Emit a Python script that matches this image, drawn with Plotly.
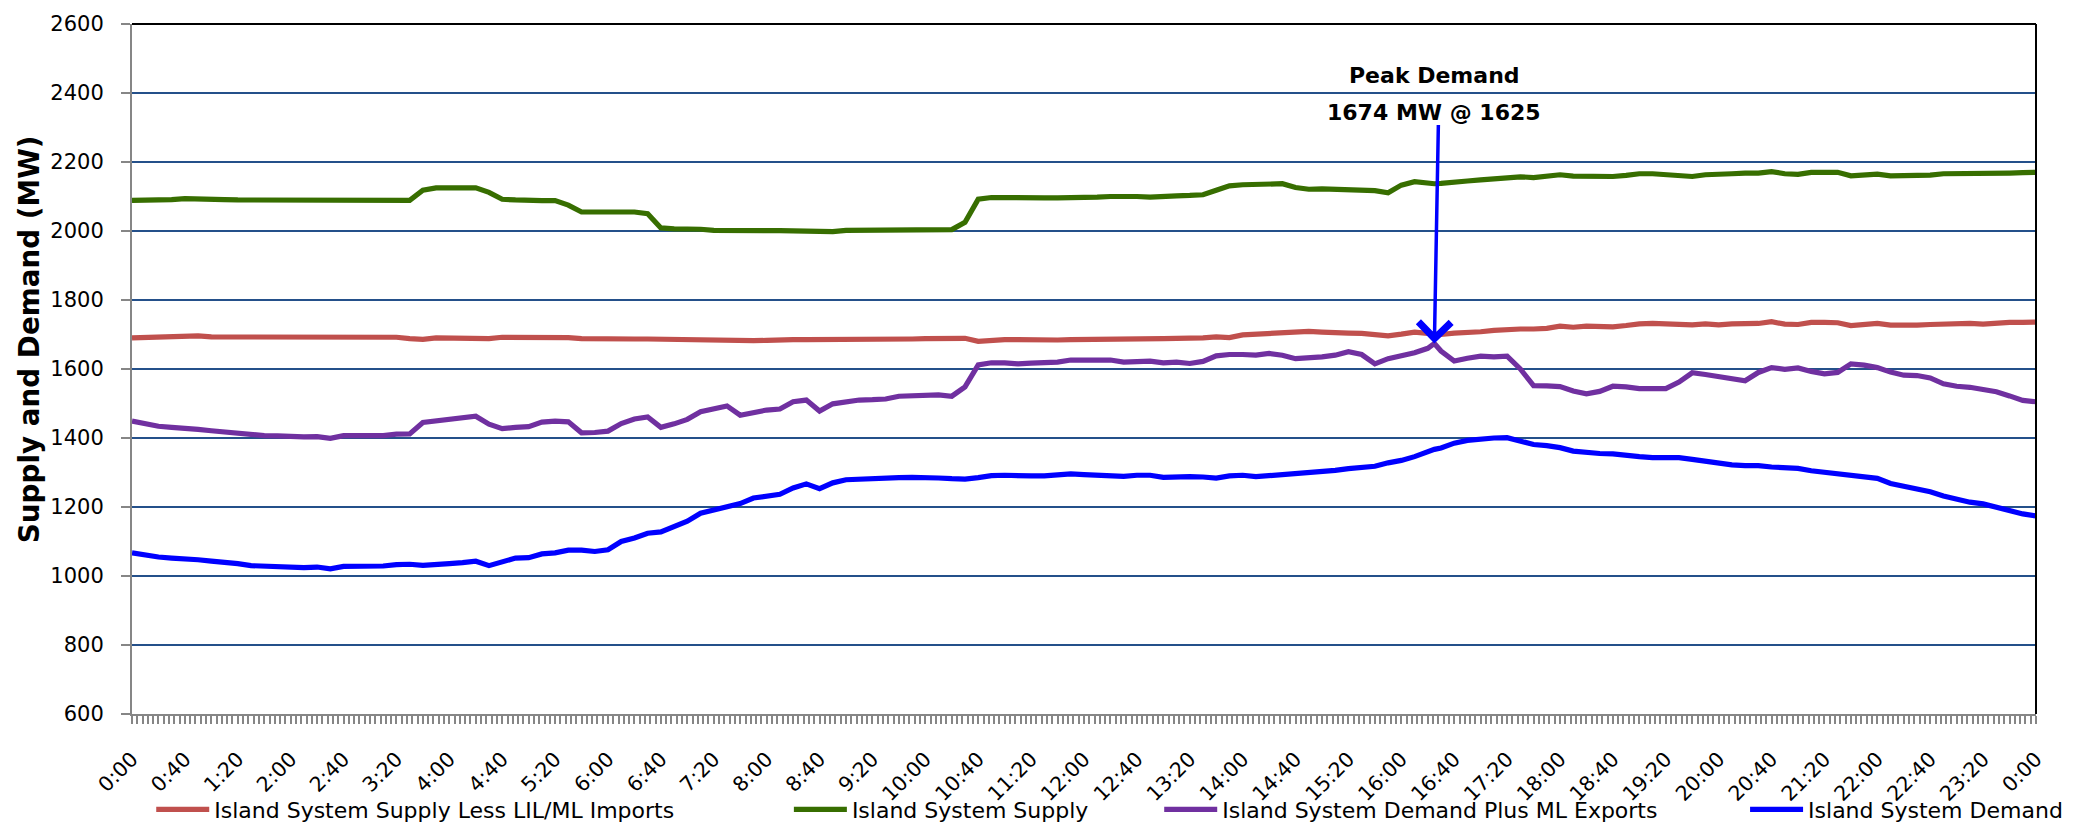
import plotly.graph_objects as go

# ---------------- data ----------------
# sample times: every 10 minutes from 0:00 to 24:00, plus the 16:25 peak sample
times = ["%d:%02d" % divmod(m, 60) for m in range(0, 1441, 10)]
times.insert(times.index("16:20") + 1, "16:25")
times[-1] = "24:00"

supply_less_imports = [
    1690, 1691, 1691, 1694, 1695, 1696, 1693, 1693, 1693, 1694, 1692, 1694, 1694, 1693, 1693, 1692, 1693, 1692, 1692, 1692, 1692, 1688, 1686, 1690, 1690,
    1690, 1690, 1688, 1692, 1692, 1692, 1693, 1692, 1691, 1688, 1687, 1687, 1687, 1687, 1687, 1686, 1685, 1684, 1684, 1683, 1682, 1682, 1682, 1683,
    1685, 1685, 1685, 1685, 1684, 1684, 1684, 1685, 1686, 1686, 1687, 1688, 1688, 1688, 1689, 1680, 1684, 1685, 1685, 1684, 1684, 1684, 1685, 1685,
    1686, 1687, 1687, 1686, 1685, 1688, 1689, 1689, 1690, 1693, 1691, 1699, 1701, 1703, 1704, 1707, 1709, 1707, 1707, 1704, 1703, 1700, 1696, 1701,
    1707, 1703, 1700, 1700, 1704, 1705, 1708, 1712, 1715, 1716, 1716, 1718, 1724, 1721, 1724, 1724, 1722, 1726, 1731, 1732, 1730, 1729, 1728, 1731, 1728,
    1731, 1732, 1732, 1737, 1730, 1729, 1735, 1735, 1734, 1726, 1730, 1732, 1727, 1726, 1727, 1729, 1731, 1732, 1732, 1730, 1734, 1735, 1735, 1736,
]

supply = [
    2089, 2089, 2089, 2091, 2094, 2094, 2093, 2091, 2090, 2090, 2090, 2092, 2092, 2092, 2090, 2090, 2090, 2090, 2090, 2090, 2089, 2089, 2118, 2125, 2125,
    2125, 2125, 2112, 2092, 2090, 2088, 2088, 2088, 2075, 2055, 2055, 2055, 2055, 2055, 2050, 2009, 2006, 2006, 2005, 2002, 2001, 2001, 2001, 2001,
    2001, 2001, 2001, 2001, 1998, 2002, 2002, 2002, 2004, 2004, 2004, 2004, 2004, 2004, 2025, 2092, 2097, 2096, 2096, 2096, 2096, 2096, 2096, 2096,
    2098, 2100, 2101, 2100, 2098, 2101, 2102, 2103, 2105, 2118, 2131, 2134, 2135, 2136, 2137, 2126, 2121, 2122, 2121, 2119, 2118, 2117, 2111, 2133,
    2143, 2138, 2137, 2138, 2143, 2145, 2148, 2151, 2155, 2157, 2155, 2158, 2163, 2159, 2158, 2158, 2158, 2161, 2166, 2166, 2164, 2163, 2158, 2163, 2163,
    2166, 2168, 2168, 2172, 2166, 2164, 2170, 2170, 2170, 2160, 2163, 2165, 2160, 2160, 2161, 2162, 2166, 2166, 2166, 2165, 2167, 2168, 2169, 2170,
]

demand_plus_exports = [
    1449, 1440, 1434, 1431, 1429, 1425, 1421, 1417, 1414, 1410, 1407, 1406, 1403, 1403, 1404, 1399, 1407, 1406, 1407, 1407, 1411, 1412, 1445, 1450, 1453,
    1458, 1463, 1440, 1427, 1431, 1433, 1446, 1449, 1447, 1415, 1416, 1420, 1442, 1455, 1461, 1431, 1441, 1454, 1476, 1486, 1493, 1466, 1473, 1481,
    1484, 1505, 1510, 1478, 1499, 1505, 1510, 1511, 1513, 1521, 1523, 1524, 1525, 1521, 1548, 1612, 1618, 1618, 1615, 1617, 1619, 1620, 1626, 1625,
    1626, 1626, 1620, 1623, 1623, 1618, 1620, 1616, 1622, 1638, 1642, 1642, 1640, 1645, 1640, 1630, 1632, 1635, 1640, 1650, 1642, 1615, 1630, 1637,
    1647, 1660, 1674, 1652, 1623, 1631, 1637, 1635, 1637, 1600, 1552, 1551, 1549, 1536, 1528, 1535, 1550, 1548, 1543, 1543, 1543, 1562, 1589, 1584, 1577,
    1571, 1566, 1590, 1604, 1599, 1603, 1593, 1586, 1590, 1615, 1611, 1604, 1591, 1582, 1581, 1574, 1557, 1550, 1547, 1541, 1534, 1522, 1509, 1505,
]

demand = [
    1067, 1060, 1055, 1052, 1051, 1047, 1043, 1040, 1036, 1030, 1029, 1027, 1024, 1024, 1026, 1021, 1028, 1028, 1029, 1029, 1033, 1034, 1031, 1035, 1036,
    1039, 1043, 1030, 1043, 1052, 1053, 1064, 1067, 1075, 1075, 1071, 1076, 1100, 1110, 1124, 1128, 1143, 1159, 1182, 1192, 1200, 1210, 1226, 1231,
    1237, 1255, 1267, 1253, 1270, 1279, 1281, 1284, 1285, 1285, 1286, 1286, 1284, 1282, 1281, 1285, 1291, 1292, 1290, 1290, 1290, 1292, 1296, 1294,
    1292, 1292, 1289, 1292, 1292, 1286, 1288, 1288, 1287, 1284, 1290, 1292, 1288, 1291, 1294, 1298, 1298, 1302, 1306, 1311, 1313, 1318, 1328, 1335,
    1346, 1361, 1367, 1371, 1385, 1393, 1398, 1400, 1401, 1391, 1381, 1378, 1372, 1362, 1357, 1355, 1354, 1349, 1346, 1343, 1343, 1343, 1338, 1332, 1329,
    1322, 1320, 1320, 1316, 1313, 1312, 1305, 1301, 1297, 1293, 1290, 1283, 1268, 1260, 1252, 1244, 1232, 1223, 1214, 1209, 1200, 1188, 1180, 1174,
]

tick_labels = ["0:00", "0:40", "1:20", "2:00", "2:40", "3:20", "4:00", "4:40", "5:20", "6:00",
               "6:40", "7:20", "8:00", "8:40", "9:20", "10:00", "10:40", "11:20", "12:00", "12:40",
               "13:20", "14:00", "14:40", "15:20", "16:00", "16:40", "17:20", "18:00", "18:40", "19:20",
               "20:00", "20:40", "21:20", "22:00", "22:40", "23:20", "0:00"]

series_names = ["Island System Supply Less LIL/ML Imports", "Island System Supply",
                "Island System Demand Plus ML Exports", "Island System Demand"]

peak_time = "16:25"
peak_value = 1674
peak_label = "1625"


def to_min(t):
    h, m = t.split(":")
    return int(h) * 60 + int(m)


x_min = [to_min(t) for t in times]
tick_min = [i * 40 for i in range(len(tick_labels))]

FONT = "DejaVu Sans"
colors = ["#C0504D", "#376E00", "#7030A0", "#0000FF"]
values = [supply_less_imports, supply, demand_plus_exports, demand]
legend_ids = ["legend", "legend2", "legend3", "legend4"]
legend_x = [0.0101, 0.3450, 0.5395, 0.8472]

fig = go.Figure()
for name, col, vals, lg in zip(series_names, colors, values, legend_ids):
    fig.add_trace(go.Scatter(x=x_min, y=vals, mode="lines", name=name, showlegend=True,
                             line=dict(color=col, width=5.2), legend=lg))

legend_common = dict(orientation="h", yref="container", y=0.0273, yanchor="middle",
                     xanchor="left", font=dict(family=FONT, size=22, color="black"),
                     bgcolor="rgba(0,0,0,0)", itemwidth=53, visible=True)

fig.update_layout(
    width=2073, height=824,
    showlegend=True,
    margin=dict(l=123.7, r=45, t=16, b=117.7),
    paper_bgcolor="white", plot_bgcolor="white",
    font=dict(family=FONT, color="black"),
    legend=dict(x=legend_x[0], **legend_common),
    legend2=dict(x=legend_x[1], **legend_common),
    legend3=dict(x=legend_x[2], **legend_common),
    legend4=dict(x=legend_x[3], **legend_common),
    xaxis=dict(range=[0, 1440], tickmode="array", tickvals=tick_min, ticktext=tick_labels,
               tickangle=-45, tickfont=dict(family=FONT, size=20.5, color="black"),
               ticklabelstandoff=15, automargin=False,
               showgrid=False, zeroline=False, showline=True, linecolor="#868686", linewidth=2,
               ticks="outside", ticklen=8, tickcolor="#868686", tickwidth=1.5,
               minor=dict(dtick=4, tick0=0, ticks="outside", ticklen=8, tickcolor="#868686",
                          tickwidth=1.5, showgrid=False)),
    yaxis=dict(range=[600, 2600], dtick=200, tick0=600, automargin=False,
               tickfont=dict(family=FONT, size=21, color="black"),
               ticklabelstandoff=13,
               showgrid=True, gridcolor="#24508A", gridwidth=1.5, zeroline=False,
               showline=True, linecolor="#868686", linewidth=2,
               ticks="outside", ticklen=9, tickcolor="#868686", tickwidth=1.5),
    shapes=[
        dict(type="line", xref="paper", yref="paper", x0=0, x1=1, y0=1, y1=1,
             line=dict(color="black", width=2), layer="above"),
        dict(type="line", xref="paper", yref="paper", x0=1, x1=1, y0=0, y1=1,
             line=dict(color="black", width=2), layer="above"),
    ],
)

# y-axis title
fig.add_annotation(x=-0.0539, y=0.5437, xref="paper", yref="paper", textangle=-90,
                   text="<b>Supply and Demand (MW)</b>", showarrow=False,
                   xanchor="center", yanchor="middle",
                   font=dict(family=FONT, size=27.8, color="black"))

px = to_min(peak_time)
fig.add_annotation(x=px, y=0.9255, xref="x", yref="paper", text="<b>Peak Demand</b>",
                   showarrow=False, xanchor="center", yanchor="middle",
                   font=dict(family=FONT, size=22, color="black"))
fig.add_annotation(x=px, y=0.872, xref="x", yref="paper",
                   text="<b>%d MW @ %s</b>" % (peak_value, peak_label),
                   showarrow=False, xanchor="center", yanchor="middle",
                   font=dict(family=FONT, size=22, color="black"))
fig.add_annotation(x=px, y=peak_value, xref="x", yref="y", text="", showarrow=True,
                   ax=4, ay=-220, arrowcolor="#0000FF", arrowwidth=3.5,
                   arrowhead=4, arrowsize=1.8, standoff=0)

fig.write_html("out.html")
